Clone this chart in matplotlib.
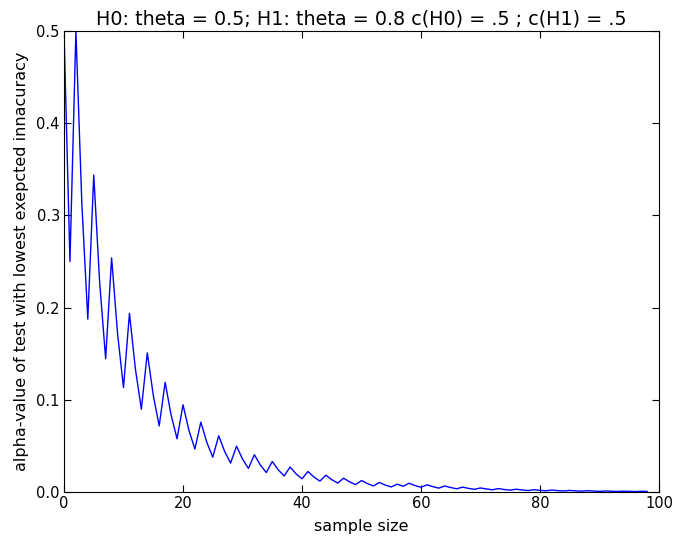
import matplotlib
matplotlib.use("Agg")
import matplotlib.pyplot as plt

sample_size = list(range(0, 99))
alpha_values = [
    0.5, 0.25, 0.5, 0.3125, 0.1875, 0.34375, 0.2266, 0.1445, 0.2539, 0.1719,
    0.1133, 0.1938, 0.1334, 0.0898, 0.1509, 0.1051, 0.0717, 0.1189, 0.0835, 0.0577,
    0.0946, 0.0669, 0.0466, 0.0758, 0.0539, 0.0378, 0.0610, 0.0440, 0.0314, 0.0497,
    0.0358, 0.0256, 0.0404, 0.0293, 0.0211, 0.0331, 0.0241, 0.0174, 0.0271, 0.0197,
    0.0143, 0.0222, 0.0163, 0.0118, 0.0182, 0.0134, 0.0097, 0.0150, 0.0110, 0.0080,
    0.0124, 0.0091, 0.0066, 0.0103, 0.0075, 0.0055, 0.0085, 0.0062, 0.0095, 0.0070,
    0.0051, 0.0078, 0.0058, 0.0042, 0.0065, 0.0048, 0.0035, 0.0053, 0.0039, 0.0029,
    0.0044, 0.0033, 0.0024, 0.0037, 0.0027, 0.0020, 0.0030, 0.0022, 0.0016, 0.0025,
    0.0018, 0.0013, 0.0021, 0.0015, 0.0011, 0.0017, 0.0012, 0.0009, 0.0014, 0.0010,
    0.0007, 0.0011, 0.0008, 0.0006, 0.0009, 0.0007, 0.0005, 0.0008, 0.0006,
]
x_ticks = [0, 20, 40, 60, 80, 100]
y_ticks = [0.0, 0.1, 0.2, 0.3, 0.4, 0.5]
title = "H0: theta = 0.5; H1: theta = 0.8 c(H0) = .5 ; c(H1) = .5"

fig = plt.figure(figsize=(6.77, 5.40), dpi=100)
ax = fig.add_axes([64/677, 48/540, 595/677, 461/540])
ax.plot(sample_size, alpha_values, color=(0, 0, 1), linewidth=1)
ax.set_xlim(0, 100)
ax.set_ylim(0, 0.5)
ax.set_xticks(x_ticks)
ax.set_yticks(y_ticks)
ax.set_xticklabels([str(t) for t in x_ticks])
ax.set_yticklabels([f"{t:.1f}" for t in y_ticks])
ax.tick_params(direction="in", top=True, right=True, labelsize=10.5, length=5, pad=3)
ax.set_xlabel("sample size", fontsize=11.5, labelpad=6)
ax.set_ylabel("alpha-value of test with lowest exepcted innacuracy", fontsize=11.5, labelpad=5)
ax.set_title(title, fontsize=13.8, pad=5)
fig.savefig("out.png", dpi=100)
